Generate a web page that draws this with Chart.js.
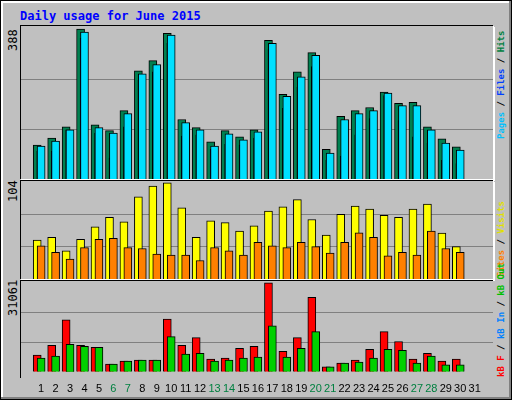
<!DOCTYPE html>
<html><head><meta charset="utf-8">
<script src="https://cdn.jsdelivr.net/npm/chart.js@4"></script>
<style>
body{margin:0;background:#fff}
#wrap{position:relative;width:510px;height:398px;border:1px solid #000;background:#c0c0c0;font-family:"DejaVu Sans Mono",monospace;overflow:hidden;box-shadow:inset -2px -2px 0 #808080,inset 2px 2px 0 #fff}
.pan{position:absolute;left:19px;width:472px;background:#c0c0c0;border-top:1px solid #000;border-left:1px solid #000;box-shadow:1px 1px 0 #fff,2px 2px 0 #fff}
canvas{position:absolute;left:0;top:0}
.rl{position:absolute;font-size:9px;font-weight:bold;white-space:nowrap;transform-origin:0 0;transform:rotate(-90deg)}
.lv{position:absolute;font-size:12px;transform-origin:0 0;transform:rotate(-90deg);color:#000}
</style></head><body>
<div id="wrap">
<div style="position:absolute;left:19px;top:8px;color:#0000ff;font-weight:bold;font-size:12px">Daily usage for June 2015</div>
<div class="pan" style="top:24px;height:153px"><canvas id="c1"></canvas></div>
<div class="pan" style="top:179px;height:98px"><canvas id="c2"></canvas></div>
<div class="pan" style="top:279px;height:97px;overflow:visible;box-shadow:none"><canvas id="c3"></canvas></div>
<div class="lv" style="left:5px;top:50px">388</div>
<div class="lv" style="left:5px;top:201px">104</div>
<div class="lv" style="left:5px;top:315px">31061</div>
<div class="rl" style="left:495px;top:138px"><span style="color:#00c0ff">Pages</span> / <span style="color:#0040ff">Files</span> / <span style="color:#008040">Hits</span></div>
<div class="rl" style="left:495px;top:276px"><span style="color:#ff8000">Sites</span> / <span style="color:#e0e000">Visits</span></div>
<div class="rl" style="left:495px;top:376px"><span style="color:#ff0000">kB F</span> / <span style="color:#0080ff">kB In</span> / <span style="color:#00c000">kB Out</span></div>
</div>
<script>
const days=[1,2,3,4,5,6,7,8,9,10,11,12,13,14,15,16,17,18,19,20,21,22,23,24,25,26,27,28,29,30,31];
const weekend=[6,7,13,14,20,21,27,28];
const hits=[88,106,135,388,140,125,177,280,306,377,154,133,96,125,109,127,359,219,277,327,77,162,177,185,225,196,198,135,104,83];
const files=[85,98,127,380,133,119,169,272,296,372,146,127,85,117,101,122,351,214,264,320,67,154,169,177,222,190,190,127,93,75];
const pages=[72,72,127,364,119,54,135,256,277,351,111,114,77,90,88,106,335,183,238,291,48,59,114,156,216,151,109,93,48,40];
const visits=[42,45,30.5,43,56.5,66.7,62,89,100.6,104,77,45,63,61,52,57.6,73.5,78,86,64.4,47.5,70,79,75.7,69,66.7,75.7,81,49.7,35];
const sites=[36,29,21.5,34,43,44,34,33,27,26,26,20,34,30.5,26,39.6,36,34,39.6,35,28,39.6,50,45,25,29,26,52,33,29];
const kbF=[5803,9216,18090,9216,8533,2731,3755,4096,4096,18432,9216,11947,4437,4779,8192,8875,31061,7168,11947,25941,1707,3072,4096,7851,13995,10581,4437,6485,3755,4437];
const kbOut=[4779,5461,9557,8875,8533,2731,3755,4096,4096,12288,6144,6485,3755,4096,4779,5120,16043,5120,8192,13995,1707,3072,3413,4779,7851,7509,3072,5461,2389,2389];
const maxes=[388,104,31061];
const XMIN=0.134,XMAX=31.74;
const pts=(arr,off)=>arr.map((v,i)=>({x:days[i]+off,y:v}));
function ds(data,off,color,w,order){return{data:pts(data,off),backgroundColor:color,borderColor:'#000',borderWidth:1,barThickness:w,order:order,grouped:false,borderSkipped:'bottom'};}
function mk(id,w,h,sets,max,showX){
  const c=document.getElementById(id);c.width=w;c.height=h;c.style.width=w+'px';c.style.height=h+'px';
  new Chart(c,{type:'bar',data:{datasets:sets},options:{responsive:false,animation:false,events:[],
    layout:{padding:0},plugins:{legend:{display:false},tooltip:{enabled:false}},
    scales:{x:{type:'linear',min:XMIN,max:XMAX,display:showX,grid:{display:false},border:{display:false},
        afterBuildTicks:s=>{s.ticks=days.map(d=>({value:d}));},
        ticks:{padding:3,autoSkip:false,maxRotation:0,font:{family:'Liberation Sans',size:11},color:ctx=>weekend.includes(ctx.tick.value)?'#008040':'#000',callback:v=>String(v)}},
      y:{min:0,max:max*1.02,afterFit:s=>{s.width=0;},afterBuildTicks:s=>{s.ticks=[{value:max/3},{value:2*max/3}];},
        ticks:{display:false},grid:{color:'#808080',lineWidth:1,drawTicks:false},border:{display:false}}}}});
}
mk('c1',472,153,[ds(hits,-0.27,'#008050',8,3),ds(pages,-0.2,'#0000ff',3,2),ds(files,0,'#00e0ff',8,1)],maxes[0],false);
mk('c2',472,98,[ds(visits,-0.27,'#ffff00',8,2),ds(sites,0,'#ff8000',8,1)],maxes[1],false);
mk('c3',472,118,[ds(kbF,-0.27,'#ff0000',8,2),ds(kbOut,0,'#00d000',8,1)],maxes[2],true);
</script>
</body></html>
